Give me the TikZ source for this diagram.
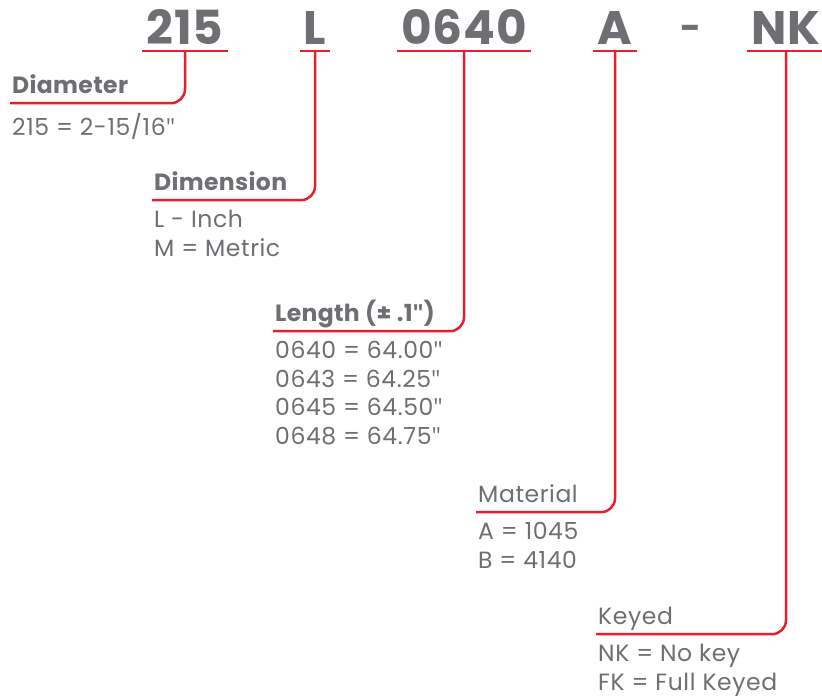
\documentclass[tikz,border=0pt]{standalone}
\usepackage{fontspec}
\setmainfont{Poppins}
\newfontfamily\quotefont{Open Sans}
\usepackage{tikz}
\usetikzlibrary{positioning}
\definecolor{partgrey}{RGB}{110,111,115}
\definecolor{partred}{RGB}{232,30,45}
\newcommand{\inch}{{\quotefont"}}
\tikzset{
    code/.style={text=partgrey,font=\fontsize{47}{47}\selectfont\bfseries\addfontfeature{LetterSpace=2},inner xsep=4pt,inner ysep=7pt,text depth=0pt,anchor=base},
    heading/.style={text=partgrey,font=\fontsize{23.5}{29}\selectfont\bfseries\addfontfeature{LetterSpace=1.5},inner xsep=2pt,inner ysep=10pt,text depth=0pt,anchor=base west},
    plainheading/.style={heading,font=\fontsize{23.5}{29}\selectfont\addfontfeature{LetterSpace=2.5}},
    desc/.style={text=partgrey,font=\fontsize{23.5}{28.5}\selectfont\addfontfeature{LetterSpace=2.5},align=left,inner sep=0pt},
    leader/.style={draw=partred,line width=2.5pt,rounded corners=14pt}
}
\begin{document}
\begin{tikzpicture}[x=1pt,y=-1pt]
\useasboundingbox (0,0) rectangle (822,696);
% part number
\node[code] (c215) at (185,44) {215};
\node[code] (cL) at (315,44) {L};
\node[code] (c0640) at (464,44) {0640};
\node[code] (cA) at (615,44) {A};
\node[code,font=\fontsize{36}{36}\selectfont\bfseries] (cdash) at (691,40) {-};
\node[code] (cNK) at (786,44) {NK};
\foreach \n in {c215,cL,c0640,cA,cNK}
    \draw[leader] (\n.south west) -- (\n.south east);

% fields
\node[heading] (diameter) at (10,93) {Diameter};
\node[desc,below right=10pt and 2pt of diameter.south west] (diameterdesc) {215 = 2-15/16\inch};
\node[heading] (dimension) at (152,190) {Dimension};
\node[desc,below right=10pt and 2pt of dimension.south west] (dimensiondesc) {L - Inch\\M = Metric};
\node[heading] (length) at (273,321) {Length (± .1\inch)};
\node[desc,below right=10pt and 2pt of length.south west] (lengthdesc) {0640 = 64.00\inch\\0643 = 64.25\inch\\0645 = 64.50\inch\\0648 = 64.75\inch};
\node[plainheading] (material) at (476,502) {Material};
\node[desc,below right=10pt and 2pt of material.south west] (materialdesc) {A = 1045\\B = 4140};
\node[plainheading] (keyed) at (596,624) {Keyed};
\node[desc,below right=10pt and 2pt of keyed.south west] (keyeddesc) {NK = No key\\FK = Full Keyed};

% leaders
\draw[leader] (diameter.south west) -| (c215.south);
\draw[leader] (dimension.south west) -| (cL.south);
\draw[leader] (length.south west) -| (c0640.south);
\draw[leader] (material.south west) -| (cA.south);
\draw[leader] (keyed.south west) -| (cNK.south);
\end{tikzpicture}
\end{document}
